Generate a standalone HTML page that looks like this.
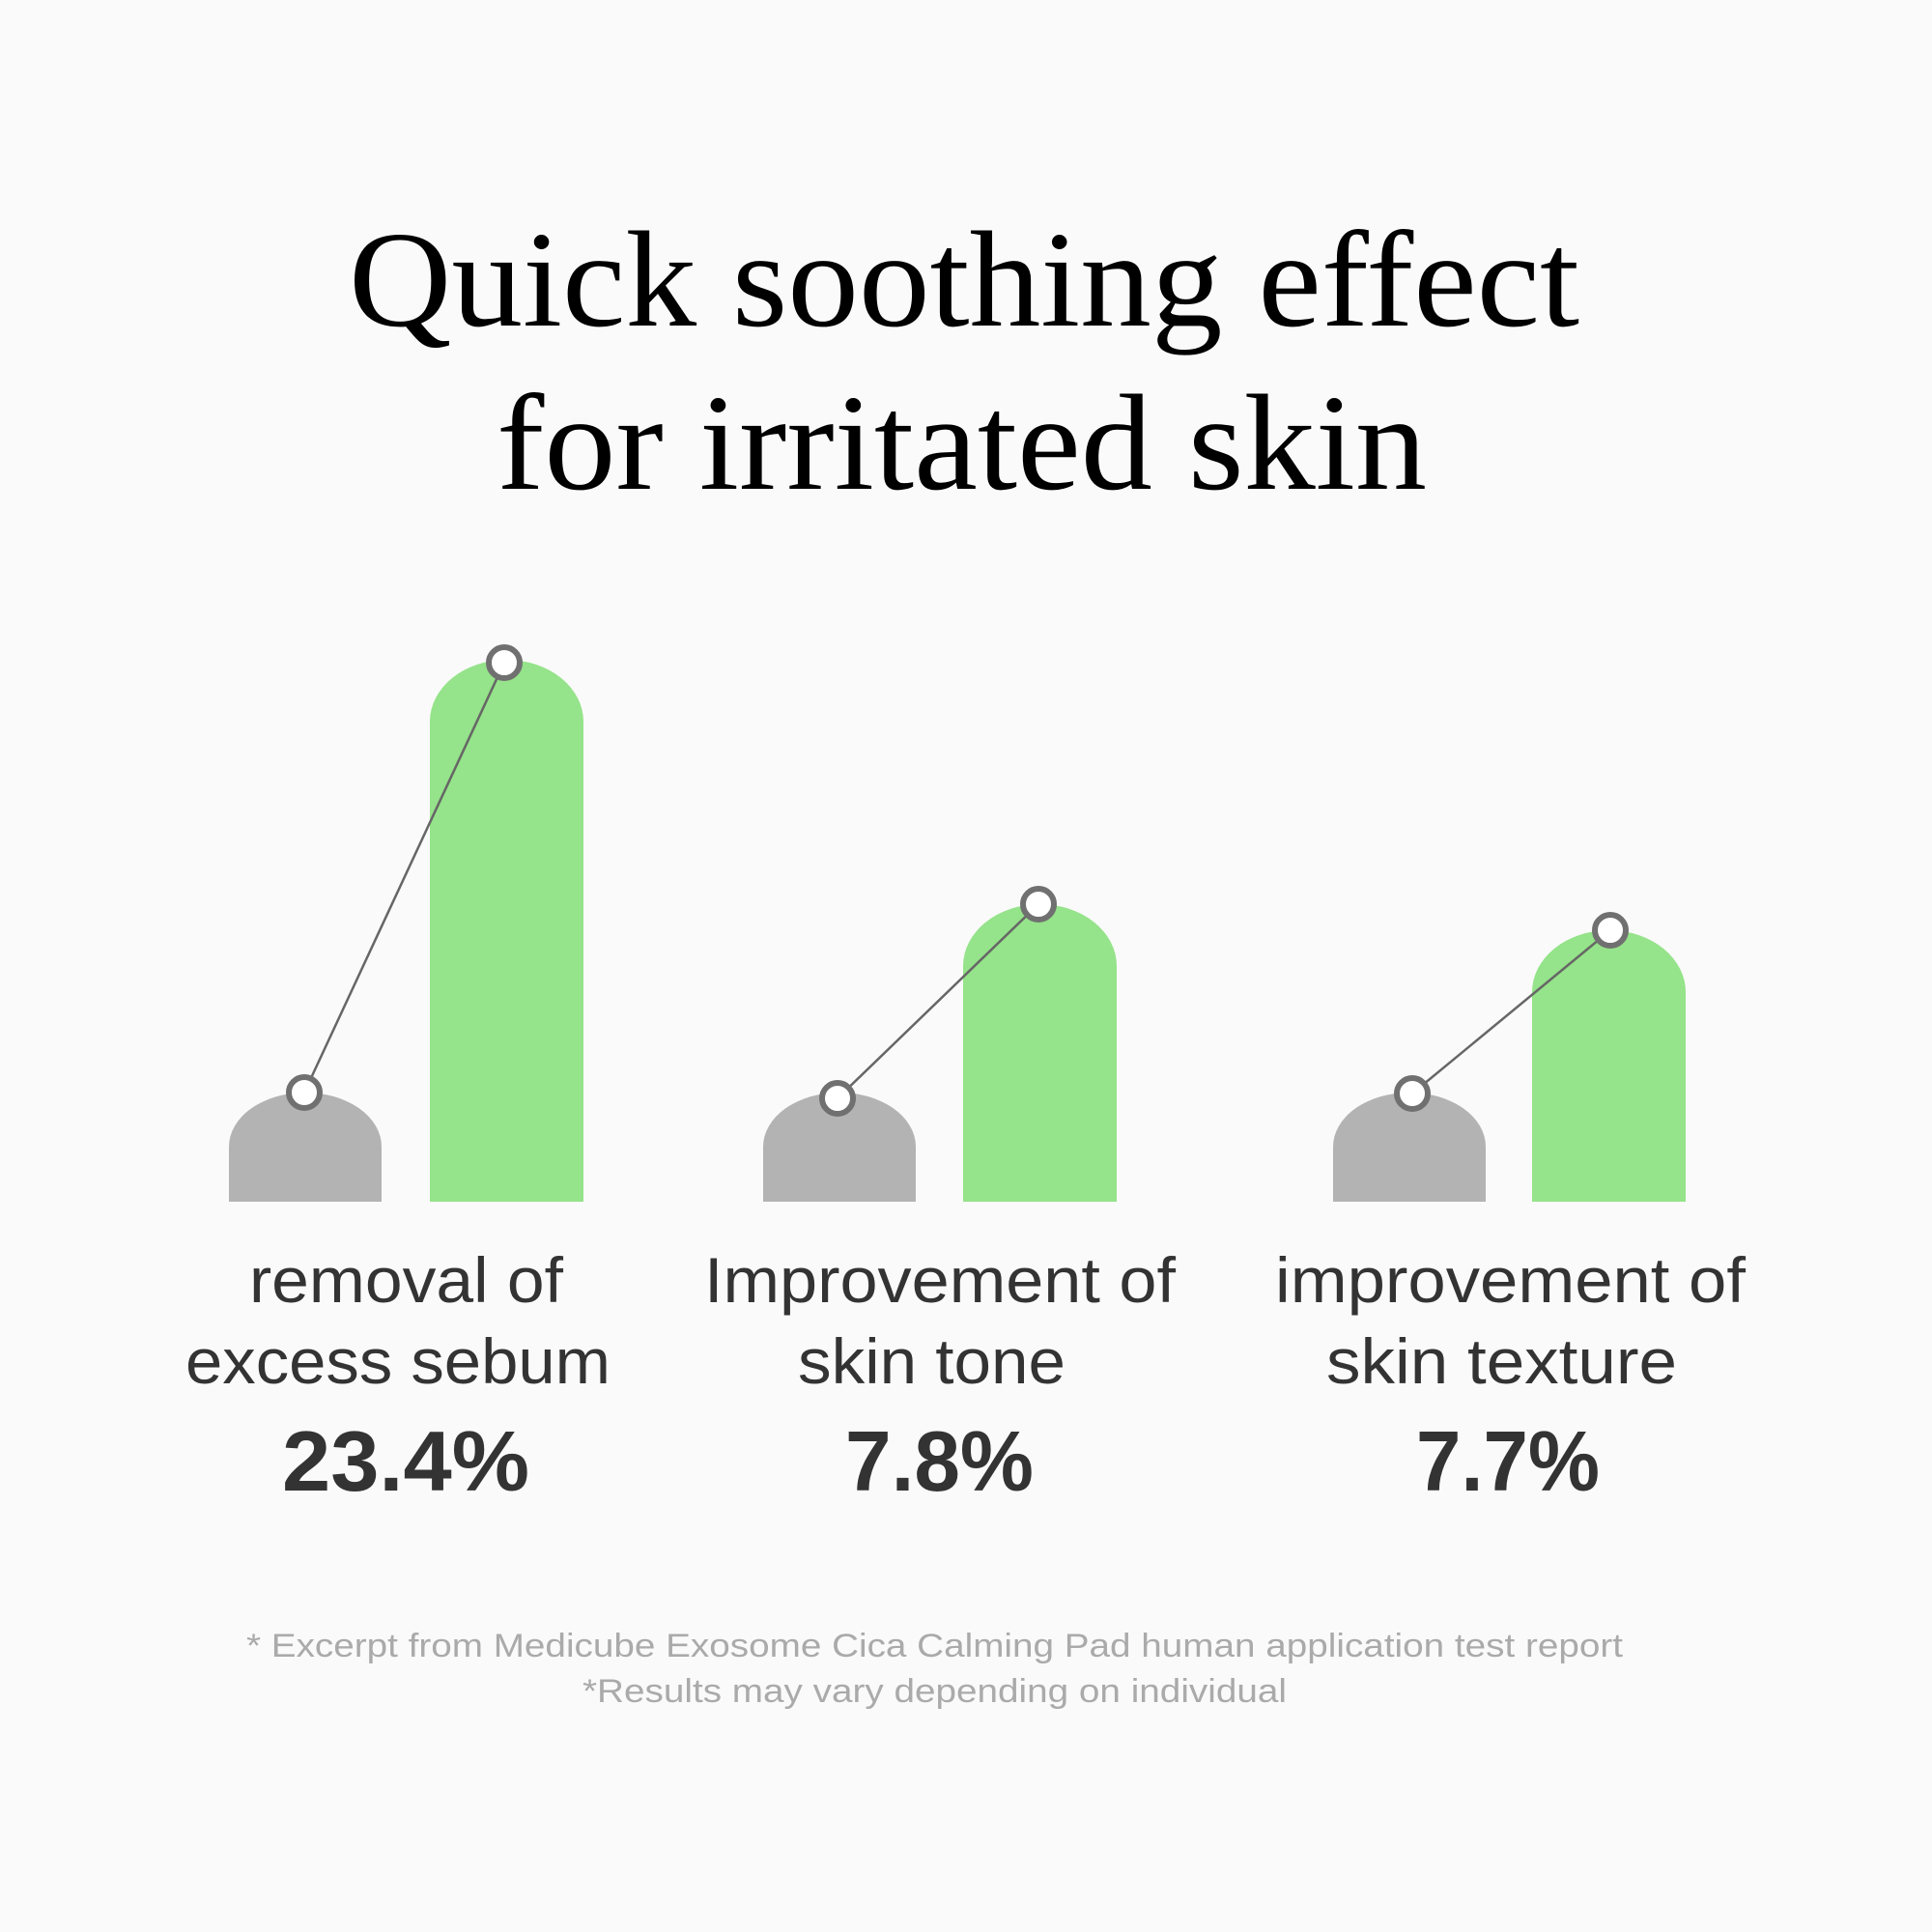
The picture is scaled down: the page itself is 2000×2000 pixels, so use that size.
<!DOCTYPE html>
<html><head><meta charset="utf-8"><style>
html,body{margin:0;padding:0;background:#fafafa;}
svg{display:block;}
</style></head><body>
<svg width="2000" height="2000" viewBox="0 0 2000 2000" xmlns="http://www.w3.org/2000/svg">
<rect width="2000" height="2000" fill="#fafafa"/>
<g font-family="'Liberation Serif', serif" fill="#000" font-size="142">
<text x="361" y="337" textLength="1274" lengthAdjust="spacingAndGlyphs">Quick soothing effect</text>
<text x="514" y="506" textLength="963" lengthAdjust="spacingAndGlyphs">for irritated skin</text>
</g>
<g fill="#b3b3b3">
<path d="M237 1244 V1187 A79 56 0 0 1 395 1187 V1244 Z"/>
<path d="M790 1244 V1187 A79 56 0 0 1 948 1187 V1244 Z"/>
<path d="M1380 1244 V1187 A79 56 0 0 1 1538 1187 V1244 Z"/>
</g>
<g fill="#95e38a">
<path d="M445 1244 V747 A79.5 64 0 0 1 604 747 V1244 Z"/>
<path d="M997 1244 V1000 A79.5 64 0 0 1 1156 1000 V1244 Z"/>
<path d="M1586 1244 V1027 A79.5 64 0 0 1 1745 1027 V1244 Z"/>
</g>
<g stroke="#666" stroke-width="2.5">
<line x1="315" y1="1131" x2="522" y2="686"/>
<line x1="867" y1="1137" x2="1075" y2="936"/>
<line x1="1462" y1="1132" x2="1667" y2="963"/>
</g>
<g fill="#fff" stroke="#707070" stroke-width="6">
<circle cx="315" cy="1131" r="16"/>
<circle cx="522" cy="686" r="16"/>
<circle cx="867" cy="1137" r="16"/>
<circle cx="1075" cy="936" r="16"/>
<circle cx="1462" cy="1132" r="16"/>
<circle cx="1667" cy="963" r="16"/>
</g>
<g font-family="'Liberation Sans', sans-serif" fill="#333" font-size="66">
<text x="258" y="1348" textLength="325" lengthAdjust="spacingAndGlyphs">removal of</text>
<text x="192" y="1432" textLength="440" lengthAdjust="spacingAndGlyphs">excess sebum</text>
<text x="729" y="1348" textLength="488" lengthAdjust="spacingAndGlyphs">Improvement of</text>
<text x="826" y="1432" textLength="277" lengthAdjust="spacingAndGlyphs">skin tone</text>
<text x="1320" y="1348" textLength="487" lengthAdjust="spacingAndGlyphs">improvement of</text>
<text x="1373" y="1432" textLength="363" lengthAdjust="spacingAndGlyphs">skin texture</text>
</g>
<g font-family="'Liberation Sans', sans-serif" fill="#333" font-size="88" font-weight="bold">
<text x="292" y="1543" textLength="256" lengthAdjust="spacingAndGlyphs">23.4%</text>
<text x="875" y="1543" textLength="195" lengthAdjust="spacingAndGlyphs">7.8%</text>
<text x="1466" y="1543" textLength="190" lengthAdjust="spacingAndGlyphs">7.7%</text>
</g>
<g font-family="'Liberation Sans', sans-serif" fill="#aaa" font-size="34">
<text x="255" y="1715" textLength="1425" lengthAdjust="spacingAndGlyphs">* Excerpt from Medicube Exosome Cica Calming Pad human application test report</text>
<text x="603" y="1762" textLength="729" lengthAdjust="spacingAndGlyphs">*Results may vary depending on individual</text>
</g>
</svg>
</body></html>
